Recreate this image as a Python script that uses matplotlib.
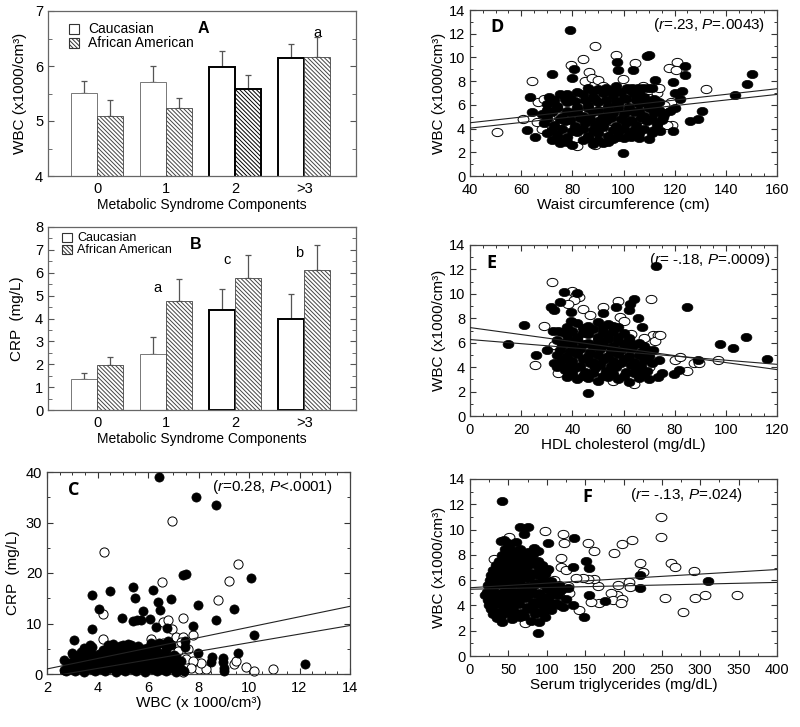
import numpy as np
import matplotlib
matplotlib.use('Agg')
import matplotlib.pyplot as plt
from matplotlib.path import Path
from matplotlib.transforms import Affine2D
from matplotlib.patches import Rectangle
from matplotlib.ticker import MultipleLocator

plt.rcParams['font.family'] = ['Liberation Sans', 'DejaVu Sans']
plt.rcParams['mathtext.fontset'] = 'custom'
plt.rcParams['mathtext.rm'] = 'Liberation Sans'
plt.rcParams['mathtext.it'] = 'Liberation Sans:italic'
plt.rcParams['hatch.linewidth'] = 0.7

# ---------------- data: bar panels ----------------
categories = ['0', '1', '2', '>3']
wbc_cauc = [5.51, 5.71, 5.98, 6.14]
wbc_cauc_err = [0.22, 0.29, 0.29, 0.26]
wbc_aa = [5.10, 5.24, 5.59, 6.17]
wbc_aa_err = [0.28, 0.18, 0.24, 0.36]
crp_cauc = [1.34, 2.43, 4.35, 3.97]
crp_cauc_err = [0.26, 0.77, 0.96, 1.10]
crp_aa = [1.97, 4.77, 5.79, 6.14]
crp_aa_err = [0.33, 0.95, 0.98, 1.09]

# ---------------- data: panel C (WBC vs CRP) ----------------
c_filled = [
    (6.42, 39.0), (7.91, 35.0), (8.70, 33.5), (7.38, 19.7), (7.52, 19.9), (10.07, 19.0),
    (5.39, 17.2), (6.20, 16.7), (4.48, 16.5), (3.78, 15.7), (5.50, 15.0), (6.39, 14.2),
    (6.90, 14.8), (6.49, 12.7), (4.07, 12.9), (5.79, 12.5), (7.98, 13.6), (9.39, 12.9),
    (4.97, 11.1), (6.06, 10.9), (5.40, 10.5), (5.55, 10.7), (5.72, 10.6), (6.30, 9.4),
    (6.75, 9.2), (8.69, 10.6), (7.77, 9.6), (3.78, 9.0), (10.18, 7.8), (3.05, 6.8),
    (9.56, 4.1), (12.22, 2.0), (7.98, 4.1), (8.55, 3.3), (8.50, 2.4), (8.98, 3.2),
    (8.98, 2.3), (9.00, 1.2), (9.02, 0.6), (7.48, 6.6), (7.45, 5.3), (6.45, 6.2),
    (6.80, 6.5), (6.10, 6.1), (5.95, 5.2), (4.05, 4.0), (3.45, 5.1), (3.78, 5.3),
    (4.40, 5.8), (4.90, 5.5), (5.20, 5.9), (5.60, 5.6), (2.66, 2.8), (2.66, 0.7),
    (2.99, 4.2), (3.19, 3.5),
    (2.75, 0.5), (3.10, 0.6), (3.48, 0.4), (3.92, 0.6), (4.30, 0.5), (4.72, 0.4),
    (5.10, 0.6), (5.52, 0.5), (5.90, 0.4), (6.35, 0.6), (6.70, 0.5), (7.12, 0.4), (7.42, 0.6),
    (2.95, 1.0), (3.35, 1.1), (3.75, 0.9), (4.15, 1.0), (4.55, 1.1), (4.95, 0.9),
    (5.35, 1.0), (5.75, 1.1), (6.15, 0.9), (6.55, 1.0), (6.95, 1.1), (7.30, 1.0),
    (2.82, 1.5), (3.22, 1.6), (3.62, 1.4), (4.02, 1.6), (4.41, 1.5), (4.83, 1.4),
    (5.22, 1.6), (5.63, 1.5), (6.02, 1.4), (6.43, 1.6), (6.82, 1.5), (7.20, 1.4),
    (3.05, 2.1), (3.45, 2.0), (3.85, 2.2), (4.25, 2.1), (4.65, 2.0), (5.05, 2.2),
    (5.85, 2.1), (6.25, 2.0), (6.65, 2.2), (7.05, 2.1),
    (3.30, 2.6), (3.71, 2.7), (4.12, 2.5), (4.52, 2.7), (4.91, 2.6), (5.33, 2.5),
    (5.71, 2.7), (6.12, 2.6), (6.52, 2.5), (6.92, 2.7), (7.30, 2.6),
    (3.25, 3.2), (3.65, 3.3), (4.05, 3.1), (4.45, 3.2), (5.25, 3.1), (5.65, 3.3),
    (6.05, 3.2), (6.45, 3.1), (6.85, 3.2),
    (3.02, 3.7), (3.42, 3.8), (3.90, 3.6), (4.33, 3.8), (4.71, 3.7), (5.12, 3.6),
    (5.52, 3.8), (5.91, 3.7), (6.62, 3.6), (7.02, 3.8),
    (3.35, 4.3), (3.75, 4.2), (4.45, 4.3), (4.85, 4.1), (5.25, 4.2), (5.65, 4.3),
    (6.05, 4.2), (6.45, 4.1),
    (3.52, 4.8), (4.22, 4.7), (4.62, 4.9), (5.02, 4.8), (5.41, 4.7), (5.82, 4.9),
    (6.32, 4.8), (6.72, 4.7), (3.72, 5.8), (4.62, 5.9), (5.02, 5.8), (5.32, 5.7),
    (6.22, 5.8), (6.62, 5.9), (6.92, 5.7), (2.90, 2.2), (3.55, 3.1), (4.85, 3.2),
    (5.45, 2.1), (6.30, 3.2), (7.10, 3.3),
]
c_open = [
    (6.97, 30.3), (4.27, 24.1), (9.56, 21.8), (9.19, 18.35), (6.56, 18.2), (8.77, 14.7),
    (4.22, 11.95), (7.38, 11.1), (6.60, 10.3), (6.80, 10.6), (6.95, 9.0), (4.22, 6.9),
    (7.10, 7.3), (7.40, 7.3), (7.78, 7.8), (9.40, 2.0), (9.50, 2.5), (9.90, 1.4),
    (10.20, 0.6), (10.97, 0.9), (8.00, 1.0), (8.30, 1.0), (8.10, 2.2), (7.40, 0.3),
    (6.10, 6.9), (6.20, 4.9), (6.60, 6.2), (7.20, 4.5), (7.60, 5.0), (7.50, 3.0),
    (7.80, 2.5), (7.20, 1.8), (7.30, 6.3), (7.00, 3.6), (7.70, 1.2), (6.90, 0.9),
]
c_line_x = [2, 14]
c_line_hi = [1.0, 13.4]
c_line_lo = [-0.6, 9.6]

# ---------------- data: panel D (waist vs WBC) ----------------
d_open = [
    (50.4, 3.7), (60.6, 4.8), (64.4, 8.0), (66.7, 6.2), (66.0, 4.55), (88.9, 11.0),
    (97.1, 10.2), (84.3, 9.9), (79.5, 9.4), (86.7, 8.8), (85.0, 8.0), (87.8, 8.3),
    (90.2, 8.1), (91.8, 7.6), (104.3, 9.5), (99.7, 8.2), (117.6, 9.1), (120.8, 9.6),
    (120.6, 8.9), (132.3, 7.3), (118.9, 4.3), (107.8, 7.6), (118.5, 6.2),
    (69, 6.5), (72, 6.4), (75, 4.0), (79, 6.4), (83, 6.6), (87, 3.2), (91, 5.5),
    (95, 4.0), (99, 5.8), (103, 6.4), (107, 4.8), (110, 6.6), (113, 7.0), (116, 6.0),
    (117, 4.3), (76, 3.0), (82, 2.5), (89, 2.6), (68, 4.0), (71, 5.0), (114, 7.4),
]
d_filled = [
    (79.1, 12.3), (150.2, 8.6), (148.2, 7.8), (143.4, 6.85), (124.1, 9.3), (124.1, 8.5),
    (109.1, 10.1), (110.1, 10.2), (97.4, 9.6), (98.0, 8.9), (103.9, 8.9), (80.8, 9.0),
    (79.8, 8.3), (72.0, 8.6), (63.5, 6.7), (64.1, 5.4), (62.2, 3.85), (65.4, 3.3),
    (99.7, 1.9), (119.5, 7.9), (120.2, 7.0), (122.8, 7.2), (122.0, 6.5), (126.0, 4.6),
    (129.0, 4.8), (130.6, 5.5), (112.4, 8.1), (119.3, 3.8), (114.3, 3.8), (115.6, 5.0),
    (109.8, 3.1), (120.2, 5.7), (111.7, 6.1),
    (101.3, 7.45), (103.5, 7.45), (105.5, 7.45), (107.5, 7.45), (109.5, 7.45), (111.0, 7.45),
    (72, 3.0), (75, 2.8), (80, 2.6), (84, 3.0), (88, 2.7), (92, 2.8), (96, 3.1), (100, 3.2), (103, 3.3),
    (74, 3.1), (78, 2.9), (86, 3.2), (90, 3.0), (94, 2.9), (98, 3.3), (106, 3.2),
    (70, 3.6), (74, 3.5), (78, 3.3), (82, 3.7), (86, 3.4), (90, 3.6), (94, 3.4), (98, 3.7),
    (102, 3.5), (106, 3.6), (111, 3.6),
    (72, 3.9), (76, 4.0), (80, 3.8), (84, 4.0), (88, 3.9), (92, 4.1), (96, 3.9), (100, 4.0),
    (104, 3.9), (108, 4.0), (112, 3.9),
    (69, 4.5), (73, 4.3), (77, 4.6), (81, 4.2), (85, 4.5), (89, 4.3), (93, 4.6), (97, 4.2),
    (101, 4.5), (105, 4.3), (109, 4.6), (113, 4.4),
    (70, 4.9), (75, 4.8), (79, 4.7), (83, 4.9), (87, 4.8), (91, 4.7), (95, 4.9), (99, 4.8),
    (103, 4.7), (107, 4.9), (111, 4.8), (115, 4.7),
    (68, 5.2), (72, 5.4), (76, 5.0), (80, 5.3), (84, 5.1), (88, 5.4), (92, 5.0), (96, 5.3),
    (100, 5.2), (104, 5.4), (108, 5.1), (112, 5.3), (116, 5.2),
    (70, 5.6), (74, 5.7), (78, 5.5), (82, 5.6), (86, 5.7), (90, 5.6), (94, 5.5), (98, 5.7),
    (102, 5.6), (106, 5.5), (110, 5.7), (114, 5.6), (118, 5.5),
    (70, 6.1), (74, 5.9), (78, 6.2), (82, 5.8), (86, 6.0), (90, 6.2), (94, 5.9), (98, 6.1),
    (102, 5.8), (106, 6.1), (110, 5.9), (114, 6.2),
    (73, 6.4), (77, 6.5), (81, 6.3), (85, 6.4), (89, 6.5), (93, 6.4), (97, 6.3), (101, 6.5),
    (105, 6.4), (109, 6.3), (112, 6.5),
    (71, 6.7), (75, 6.9), (79, 6.6), (84, 6.9), (88, 6.7), (92, 7.0), (96, 6.8), (100, 6.6),
    (104, 6.9), (108, 6.7), (78, 6.9), (86, 7.4), (90, 7.3), (95, 7.2), (97, 7.6),
    (82, 7.1), (88, 7.2), (93, 7.4), (99, 7.1), (103, 7.2), (106, 7.0),
]
d_line_x = [40, 160]
d_line_hi = [4.49, 7.36]
d_line_lo = [4.04, 6.88]

# ---------------- data: panel E (HDL vs WBC) ----------------
e_open = [
    (32.0, 11.0), (39.7, 10.2), (41.4, 9.9), (42.7, 9.75), (40.8, 9.5), (38.2, 9.2),
    (44.0, 8.8), (47.0, 8.3), (51.9, 8.9), (57.7, 9.4), (58.6, 8.1), (60.0, 7.75),
    (70.7, 9.6), (29.0, 7.35), (25.5, 4.15), (34.3, 3.5), (32.7, 5.8), (71.7, 6.6),
    (73.6, 6.6), (72.3, 6.1), (74.3, 6.6), (80.1, 4.6), (82.2, 4.8), (84.7, 3.7),
    (87.7, 4.3), (89.4, 4.3), (97.1, 4.6), (64.2, 2.65),
    (37, 5.0), (45, 4.1), (53, 5.9), (61, 5.0), (68, 6.4), (70, 4.0), (48, 3.3),
    (56, 2.9), (41, 6.6), (63, 6.7),
]
e_filled = [
    (72.7, 12.27), (84.8, 8.93), (97.7, 5.87), (102.7, 5.6), (107.9, 6.48), (116.0, 4.64),
    (89.0, 4.62), (79.9, 3.47), (81.8, 3.8), (14.7, 5.93), (21.0, 7.49), (25.8, 5.03),
    (30.0, 5.38), (31.7, 8.93), (32.7, 8.66), (35.2, 9.34), (36.9, 10.16), (41.7, 10.1),
    (46.0, 1.89), (64.2, 9.6), (62.7, 9.2), (62.3, 8.66), (65.8, 8.06), (67.1, 7.3),
    (57.1, 8.93), (52.1, 8.44), (74.0, 4.56), (75.0, 3.52), (73.4, 3.2), (69.4, 5.38),
    (71.4, 5.38), (39.5, 8.5), (39.5, 7.8), (32.3, 7.0), (34.3, 7.0),
    (38, 3.2), (42, 3.0), (46, 3.1), (50, 2.9), (54, 3.2), (58, 3.0), (62, 2.8), (66, 3.1), (70, 3.0),
    (40, 3.4), (44, 3.3), (48, 3.5), (52, 3.3), (56, 3.4), (60, 3.3), (64, 3.5), (68, 3.4),
    (34, 4.0), (37, 3.8), (41, 3.9), (45, 3.6), (49, 3.9), (53, 3.7), (57, 4.0), (61, 3.6),
    (65, 3.8), (69, 3.7),
    (35, 4.2), (39, 4.2), (43, 4.1), (47, 4.3), (51, 4.2), (55, 4.1), (59, 4.3), (63, 4.2),
    (67, 4.1), (71, 4.3),
    (33, 4.3), (36, 4.6), (40, 4.5), (44, 4.7), (48, 4.4), (52, 4.6), (56, 4.5), (60, 4.7),
    (64, 4.4), (68, 4.6),
    (34, 5.0), (38, 4.9), (42, 5.1), (46, 4.9), (50, 5.0), (54, 4.9), (58, 5.1), (62, 4.9),
    (66, 5.0), (70, 4.9),
    (35, 5.4), (39, 5.3), (43, 5.5), (47, 5.2), (51, 5.5), (55, 5.3), (59, 5.4), (63, 5.5), (67, 5.2),
    (36, 5.8), (40, 5.8), (44, 5.9), (48, 5.7), (52, 5.8), (56, 5.7), (60, 5.9), (64, 5.8), (68, 5.7),
    (34, 6.2), (38, 6.1), (42, 6.3), (46, 6.0), (50, 6.2), (54, 6.3), (58, 6.1), (62, 6.2), (66, 6.0),
    (38, 6.6), (42, 6.5), (46, 6.7), (50, 6.5), (54, 6.6), (58, 6.5), (62, 6.4),
    (36, 6.9), (40, 7.0), (44, 6.8), (48, 7.1), (52, 6.9), (56, 7.0), (60, 6.8),
    (38, 7.3), (44, 7.2), (52, 7.3), (56, 7.4),
    (42, 7.6), (46, 7.4), (50, 7.7), (54, 7.5), (58, 7.3),
]
e_line_x = [0, 120]
e_line_a = [7.24, 3.80]
e_line_b = [6.26, 4.23]

# ---------------- data: panel F (triglycerides vs WBC) ----------------
f_open = [
    (248.3, 11.0), (249.1, 9.44), (98.3, 9.89), (121.7, 9.63), (123.0, 8.96), (153.5, 8.96),
    (161.3, 8.3), (187.0, 8.11), (198.3, 8.83), (210.9, 9.18), (220.9, 7.37), (225.2, 6.62),
    (262.2, 7.37), (266.5, 7.05), (291.3, 6.7), (254.3, 4.57), (277.4, 3.51), (292.6, 4.57),
    (305.7, 4.84), (348.3, 4.84), (207.8, 5.82), (209.1, 5.43), (192.6, 5.64), (191.7, 4.84),
    (183.9, 4.97), (186.1, 4.44), (198.3, 4.49), (196.1, 4.23), (168.7, 4.23), (157.8, 4.31),
    (166.5, 5.56), (162.2, 6.12), (153.5, 6.09), (147.0, 6.17), (142.6, 3.64), (118.7, 7.05),
    (125.2, 6.84), (118.7, 7.77), (138.3, 6.17), (30.9, 7.69), (33.9, 6.17), (51.3, 9.44),
    (72.2, 2.63), (127.4, 5.5), (129.6, 4.97), (110.0, 6.04), (105.7, 5.5),
]
f_filled = [
    (41.3, 12.29), (310.0, 5.96), (220.9, 6.44), (220.9, 5.37), (176.1, 4.36), (148.3, 3.11),
    (154.8, 4.84), (151.3, 7.5), (155.7, 6.97), (136.1, 9.36), (133.9, 7.05), (133.9, 4.04),
    (101.3, 8.96), (101.3, 6.89), (88.3, 1.84), (40.4, 9.1), (65.7, 10.2), (75.2, 10.2),
    (70.9, 9.63), (118.7, 5.24), (120.9, 3.9), (114.3, 4.84), (51.3, 8.7), (60.0, 8.3),
    (83.9, 8.56), (88.3, 8.3),
    (35, 3.0), (42, 2.7), (55, 2.9), (65, 3.1), (80, 2.8), (90, 2.7), (98, 3.1),
    (30, 3.3), (40, 3.2), (50, 3.4), (60, 3.3), (70, 3.2), (85, 3.3), (95, 3.4),
    (28, 3.7), (36, 3.5), (46, 3.8), (56, 3.6), (66, 3.4), (76, 3.7), (86, 3.5), (96, 3.8), (106, 3.6),
    (25, 4.0), (34, 4.1), (44, 3.9), (54, 4.0), (64, 4.1), (74, 3.9), (84, 4.0), (94, 4.1),
    (104, 3.9), (116, 4.0),
    (24, 4.4), (32, 4.6), (42, 4.3), (52, 4.5), (62, 4.4), (72, 4.6), (82, 4.3), (92, 4.5),
    (102, 4.4), (112, 4.2), (125, 4.5),
    (20, 4.8), (28, 4.9), (36, 4.7), (46, 4.8), (56, 4.9), (66, 4.7), (76, 4.8), (86, 4.9),
    (96, 4.7), (106, 4.8),
    (22, 5.1), (30, 5.3), (40, 5.0), (50, 5.3), (60, 5.1), (70, 5.2), (80, 5.4), (90, 5.0),
    (100, 5.3), (110, 5.1), (128, 5.4),
    (24, 5.6), (34, 5.7), (44, 5.5), (54, 5.6), (64, 5.7), (74, 5.5), (84, 5.6), (94, 5.7),
    (104, 5.5), (116, 5.6),
    (26, 6.0), (35, 6.2), (45, 5.9), (55, 6.1), (65, 6.0), (75, 6.2), (85, 5.8), (95, 6.1), (105, 5.9),
    (28, 6.4), (38, 6.5), (48, 6.3), (58, 6.4), (68, 6.5), (78, 6.3), (88, 6.4), (98, 6.5),
    (30, 6.8), (40, 6.7), (50, 6.9), (60, 6.7), (70, 6.8), (80, 6.6), (90, 6.9), (100, 6.8),
    (34, 7.2), (44, 7.1), (54, 7.3), (64, 7.2), (74, 7.1), (84, 7.3), (94, 7.2),
    (38, 7.5), (48, 7.7), (58, 7.6), (68, 7.4), (78, 7.7), (88, 7.5),
    (42, 8.0), (52, 8.1), (62, 7.9), (72, 8.0), (82, 8.1),
    (45, 8.5), (55, 8.3), (65, 8.5), (75, 8.2),
    (50, 8.9), (60, 9.0), (44, 9.2),
]
f_line_x = [0, 400]
f_line_a = [5.40, 6.84]
f_line_b = [5.28, 5.82]

# ---------------- figure ----------------
fig = plt.figure(figsize=(8.0, 7.27), dpi=100)

def frac(l, t, r, b):
    W, H = 800.0, 727.0
    return [l / W, 1 - b / H, (r - l) / W, (b - t) / H]

axA = fig.add_axes(frac(48, 11, 356, 176))
axB = fig.add_axes(frac(48, 227, 356, 410))
axC = fig.add_axes(frac(47, 472, 350, 674))
axD = fig.add_axes(frac(470, 10, 777, 176))
axE = fig.add_axes(frac(470, 245, 777, 416))
axF = fig.add_axes(frac(470, 479, 777, 656))

HATCH = '\\' * 8
xpos = np.arange(len(categories))
bw = 0.375

def bar_panel(ax, cauc, cauc_err, aa, aa_err, cauc_lw, aa_lw, aa_ec):
    cec = ['#000000' if lw > 1 else '#777777' for lw in cauc_lw]
    ax.bar(xpos - bw / 2, cauc, bw, color='white', edgecolor=cec, linewidth=cauc_lw, zorder=2)
    ax.bar(xpos + bw / 2, aa, bw, color='white', edgecolor=aa_ec, linewidth=aa_lw,
           hatch=HATCH, zorder=2)
    ax.errorbar(xpos - bw / 2, cauc, yerr=[[0] * len(cauc), cauc_err], fmt='none',
                ecolor='#555555', elinewidth=0.9, capsize=2.5, capthick=0.9, zorder=1)
    ax.errorbar(xpos + bw / 2, aa, yerr=[[0] * len(aa), aa_err], fmt='none',
                ecolor='#555555', elinewidth=0.9, capsize=2.5, capthick=0.9, zorder=1)
    ax.set_xlim(-0.71, 3.75)
    ax.set_xticks(xpos)
    ax.set_xticklabels(categories)
    ax.tick_params(axis='x', length=0, labelsize=10.5, pad=4)
    ax.tick_params(axis='y', which='both', direction='in', left=True, right=True,
                   labelsize=10.5, color='#555555')
    ax.tick_params(axis='y', which='major', length=4)
    ax.tick_params(axis='y', which='minor', length=3)
    ax.yaxis.set_minor_locator(MultipleLocator(0.5))
    for s in ax.spines.values():
        s.set_color('#666666')
        s.set_linewidth(0.9)
    ax.set_xlabel('Metabolic Syndrome Components', fontsize=10, labelpad=2)

def legend_boxes(ax, x0, y1, y2, w, h, tx, fs):
    ax.add_patch(Rectangle((x0, y1 - h / 2), w, h, transform=ax.transAxes,
                           facecolor='white', edgecolor='#333333', linewidth=0.8, clip_on=False))
    ax.add_patch(Rectangle((x0, y2 - h / 2), w, h, transform=ax.transAxes,
                           facecolor='white', edgecolor='#333333', linewidth=0.8,
                           hatch=HATCH, clip_on=False))
    ax.text(tx, y1, 'Caucasian', transform=ax.transAxes, va='center', ha='left', fontsize=fs)
    ax.text(tx, y2, 'African American', transform=ax.transAxes, va='center', ha='left', fontsize=fs)

# Panel A
bar_panel(axA, wbc_cauc, wbc_cauc_err, wbc_aa, wbc_aa_err,
          [0.7, 0.7, 1.4, 1.4], [0.6, 0.6, 1.4, 0.6],
          ['#444444', '#444444', '#000000', '#444444'])
axA.set_ylim(4, 7)
axA.yaxis.set_major_locator(MultipleLocator(1))
axA.set_ylabel('WBC (x1000/cm³)', fontsize=11, labelpad=6)
legend_boxes(axA, 0.068, 0.891, 0.806, 0.0325, 0.06, 0.13, 10)
axA.text(1.535, 6.69, 'A', fontsize=11.5, fontweight='bold', ha='center', va='center')
axA.text(3.19, 6.6, 'a', fontsize=10.5, ha='center', va='center')

# Panel B
bar_panel(axB, crp_cauc, crp_cauc_err, crp_aa, crp_aa_err,
          [0.7, 0.7, 1.4, 1.4], [0.6, 0.6, 0.6, 0.6],
          ['#444444'] * 4)
axB.set_ylim(0, 8)
axB.yaxis.set_major_locator(MultipleLocator(1))
axB.set_ylabel('CRP  (mg/L)', fontsize=11, labelpad=8)
legend_boxes(axB, 0.045, 0.942, 0.876, 0.0325, 0.052, 0.094, 9)
axB.text(1.43, 7.25, 'B', fontsize=11.5, fontweight='bold', ha='center', va='center')
axB.text(0.87, 5.34, 'a', fontsize=10.5, ha='center', va='center')
axB.text(1.88, 6.55, 'c', fontsize=10.5, ha='center', va='center')
axB.text(2.93, 6.87, 'b', fontsize=10.5, ha='center', va='center')

# scatter styling
circ = Path.unit_circle()
ell = Path(Affine2D().scale(1.0, 0.76).transform(circ.vertices), circ.codes)

def scatter_panel(ax, filled, opened, marker, ms):
    ox, oy = zip(*opened)
    fx, fy = zip(*filled)
    ax.plot(ox, oy, linestyle='none', marker=marker, ms=ms, mfc='white', mec='black',
            mew=0.7, clip_on=False, zorder=2)
    ax.plot(fx, fy, linestyle='none', marker=marker, ms=ms, mfc='black', mec='black',
            mew=0.5, clip_on=False, zorder=3)
    ax.tick_params(which='both', direction='in', top=True, right=True, labelsize=10.5,
                   color='#333333')
    ax.tick_params(which='major', length=4, width=0.8)
    ax.tick_params(which='minor', length=2.5, width=0.7)
    ax.tick_params(axis='x', pad=5)
    for s in ax.spines.values():
        s.set_color('#444444')
        s.set_linewidth(0.9)

def note(ax, x, y, text):
    ax.text(x, y, text, fontsize=11, ha='right', va='center')

LETTER_FONT = ['Open Sans', 'DejaVu Sans']

# Panel C
scatter_panel(axC, c_filled, c_open, 'o', 6.6)
axC.plot(c_line_x, c_line_hi, color='#222222', lw=0.8, zorder=4)
axC.plot(c_line_x, c_line_lo, color='#222222', lw=0.8, zorder=4)
axC.set_xlim(2, 14)
axC.set_ylim(0, 40)
axC.xaxis.set_major_locator(MultipleLocator(2))
axC.xaxis.set_minor_locator(MultipleLocator(0.5))
axC.yaxis.set_major_locator(MultipleLocator(10))
axC.yaxis.set_minor_locator(MultipleLocator(5))
axC.set_xlabel('WBC (x 1000/cm³)', fontsize=11, labelpad=1)
axC.set_ylabel('CRP  (mg/L)', fontsize=11, labelpad=4)
axC.text(2.83, 36.4, 'C', fontsize=13, fontweight='bold', family=LETTER_FONT, va='center')
note(axC, 13.33, 37.0, r'($\mathit{r}$=0.28, $\mathit{P}$<.0001)')

# Panel D
scatter_panel(axD, d_filled, d_open, ell, 7.8)
axD.plot(d_line_x, d_line_hi, color='#222222', lw=0.8, zorder=4)
axD.plot(d_line_x, d_line_lo, color='#222222', lw=0.8, zorder=4)
axD.set_xlim(40, 160)
axD.set_ylim(0, 14)
axD.xaxis.set_major_locator(MultipleLocator(20))
axD.xaxis.set_minor_locator(MultipleLocator(5))
axD.yaxis.set_major_locator(MultipleLocator(2))
axD.yaxis.set_minor_locator(MultipleLocator(1))
axD.set_xlabel('Waist circumference (cm)', fontsize=11, labelpad=1)
axD.set_ylabel('WBC (x1000/cm³)', fontsize=11, labelpad=2)
axD.text(47.8, 12.6, 'D', fontsize=13, fontweight='bold', family=LETTER_FONT, va='center')
note(axD, 155.2, 12.7, r'($\mathit{r}$=.23, $\mathit{P}$=.0043)')

# Panel E
scatter_panel(axE, e_filled, e_open, ell, 7.8)
axE.plot(e_line_x, e_line_a, color='#222222', lw=0.8, zorder=4)
axE.plot(e_line_x, e_line_b, color='#222222', lw=0.8, zorder=4)
axE.set_xlim(0, 120)
axE.set_ylim(0, 14)
axE.xaxis.set_major_locator(MultipleLocator(20))
axE.xaxis.set_minor_locator(MultipleLocator(5))
axE.yaxis.set_major_locator(MultipleLocator(2))
axE.yaxis.set_minor_locator(MultipleLocator(1))
axE.set_xlabel('HDL cholesterol (mg/dL)', fontsize=11, labelpad=1)
axE.set_ylabel('WBC (x1000/cm³)', fontsize=11, labelpad=2)
axE.text(6.25, 12.5, 'E', fontsize=13, fontweight='bold', family=LETTER_FONT, va='center')
note(axE, 117.6, 12.8, r'($\mathit{r}$= -.18, $\mathit{P}$=.0009)')

# Panel F
scatter_panel(axF, f_filled, f_open, ell, 7.8)
axF.plot(f_line_x, f_line_a, color='#222222', lw=0.8, zorder=4)
axF.plot(f_line_x, f_line_b, color='#222222', lw=0.8, zorder=4)
axF.set_xlim(0, 400)
axF.set_ylim(0, 14)
axF.xaxis.set_major_locator(MultipleLocator(50))
axF.xaxis.set_minor_locator(MultipleLocator(25))
axF.yaxis.set_major_locator(MultipleLocator(2))
axF.yaxis.set_minor_locator(MultipleLocator(1))
axF.set_xlabel('Serum triglycerides (mg/dL)', fontsize=11, labelpad=1)
axF.set_ylabel('WBC (x1000/cm³)', fontsize=11, labelpad=2)
axF.text(146, 12.6, 'F', fontsize=13, fontweight='bold', family=LETTER_FONT, va='center')
note(axF, 355.7, 12.7, r'($\mathit{r}$= -.13, $\mathit{P}$=.024)')

fig.savefig('out.png', dpi=100)
